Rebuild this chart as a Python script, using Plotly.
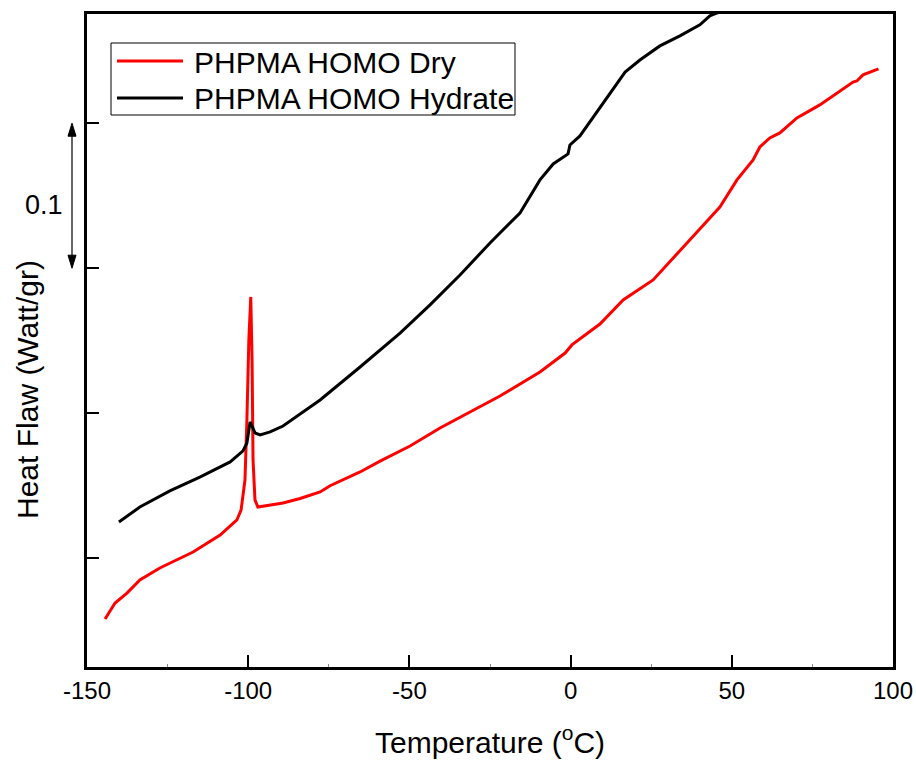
import plotly.graph_objects as go

# ---- data ----
dry_T = [-144.4, -141.3, -137.6, -133.6, -127.4, -117.1, -108.7, -103.5, -102.2, -101.0,
         -100.4, -99.8, -99.2, -98.8, -98.5, -97.9, -97.0, -94.8, -89.2, -83.9,
         -77.7, -74.6, -65.3, -59.1, -49.8, -40.5, -31.2, -21.9, -9.5, -1.7,
         0.4, 2.9, 9.1, 16.3, 25.6, 36.1, 46.3, 51.6, 56.6, 58.7, 61.8,
         64.9, 70.2, 77.3, 85.7, 87.6, 88.8, 90.7, 95.5]
dry_HF = [0.0331, 0.0441, 0.0510, 0.0600, 0.0683, 0.0793, 0.0910, 0.1014, 0.1083, 0.1290,
          0.1703, 0.2255, 0.2552, 0.2117, 0.1428, 0.1152, 0.1103, 0.1110, 0.1131, 0.1162,
          0.1207, 0.1250, 0.1345, 0.1420, 0.1524, 0.1648, 0.1759, 0.1869, 0.2034, 0.2165,
          0.2221, 0.2262, 0.2365, 0.2531, 0.2669, 0.2924, 0.3172, 0.3359, 0.3497, 0.3586, 0.3648,
          0.3683, 0.3786, 0.3876, 0.4000, 0.4034, 0.4041, 0.4083, 0.4124]

hyd_T = [-140.1, -133.6, -124.3, -115.0, -105.6, -101.6, -100.4, -99.4, -98.8, -97.9,
         -96.3, -93.2, -89.2, -83.9, -77.7, -65.3, -52.9, -43.6, -34.3, -25.0,
         -15.7, -9.5, -5.4, -0.8, -0.2, 2.9, 6.0, 11.0, 16.9, 21.5,
         27.7, 33.9, 40.1, 43.2, 45.4, 52.5]
hyd_HF = [0.1000, 0.1103, 0.1214, 0.1310, 0.1414, 0.1490, 0.1545, 0.1690, 0.1662, 0.1614,
          0.1600, 0.1621, 0.1662, 0.1745, 0.1841, 0.2069, 0.2303, 0.2497, 0.2703, 0.2924,
          0.3131, 0.3359, 0.3469, 0.3538, 0.3600, 0.3662, 0.3759, 0.3910, 0.4103, 0.4186,
          0.4283, 0.4352, 0.4428, 0.4490, 0.4510, 0.4566]

series_names = ["PHPMA HOMO Dry", "PHPMA HOMO Hydrate"]
series_colors = ["#ff0000", "#000000"]

x_ticks = [-150, -100, -50, 0, 50, 100]
x_tick_text = ["-150", "-100", "-50", "0", "50", "100"]
y_ticks = [0.075, 0.175, 0.275, 0.375]
scale_top, scale_bottom = 0.375, 0.275
scale_label = "0.1"

FONT = "Liberation Sans, Arial, sans-serif"
Y_RANGE = [0, 0.4503]
W, H = 916, 761
ML, MR, MT, MB = 87, 23, 14, 94
PLOT_W = W - ML - MR
PLOT_H = H - MT - MB


def px_x(p):  # pixel x -> paper x
    return (p - ML) / PLOT_W


def px_y(p):  # pixel y -> paper y
    return (H - MB - p) / PLOT_H


fig = go.Figure()
for xs, ys, nm, col in [(dry_T, dry_HF, series_names[0], series_colors[0]),
                        (hyd_T, hyd_HF, series_names[1], series_colors[1])]:
    fig.add_trace(go.Scatter(x=xs, y=ys, mode="lines", name=nm,
                             line=dict(color=col, width=3), showlegend=False))

fig.update_layout(
    width=W, height=H,
    margin=dict(l=ML, r=MR, t=MT, b=MB),
    paper_bgcolor="white", plot_bgcolor="white",
    font=dict(family=FONT, color="black", size=24),
    showlegend=False,
    xaxis=dict(range=[-150, 100], tickvals=x_ticks, ticktext=x_tick_text,
               ticks="inside", ticklen=12, automargin=False,
               tickwidth=2, tickcolor="black", showline=True, linewidth=2.5,
               linecolor="black", mirror=True, showgrid=False, zeroline=False,
               tickfont=dict(size=24),
               minor=dict(dtick=25, ticks="inside", ticklen=3, tickwidth=1,
                          tickcolor="#888888", showgrid=False),
               title=dict(text="Temperature (<sup>o</sup>C)", font=dict(size=30),
                          standoff=30)),
    yaxis=dict(range=Y_RANGE, tickvals=y_ticks, showticklabels=False,
               ticks="inside", ticklen=12, tickwidth=2, tickcolor="black",
               showline=True, linewidth=2.5, linecolor="black", mirror=True,
               showgrid=False, zeroline=False, automargin=False),
)

# y-axis title (offset below centre as in the reference)
fig.add_annotation(x=px_x(27), xref="paper", y=px_y(390), yref="paper",
                   text="Heat Flaw (Watt/gr)", textangle=-90, showarrow=False,
                   font=dict(size=30), xanchor="center", yanchor="middle")

# legend box drawn by hand
fig.add_shape(type="rect", xref="paper", yref="paper",
              x0=px_x(111), x1=px_x(515), y0=px_y(115), y1=px_y(43),
              line=dict(color="black", width=1), fillcolor="white", layer="above")
for nm, col, row_y in [(series_names[0], series_colors[0], 61),
                       (series_names[1], series_colors[1], 98)]:
    fig.add_shape(type="line", xref="paper", yref="paper",
                  x0=px_x(117), x1=px_x(183), y0=px_y(row_y), y1=px_y(row_y),
                  line=dict(color=col, width=3), layer="above")
    fig.add_annotation(x=px_x(192), xref="paper", y=px_y(row_y + 1), yref="paper",
                       text=nm, showarrow=False, font=dict(size=30),
                       xanchor="left", yanchor="middle")

# scale bar: double-headed arrow with "0.1"
bar_x = px_x(72)
hw = 4 / PLOT_W
hh = 13 * (Y_RANGE[1] - Y_RANGE[0]) / PLOT_H
fig.add_shape(type="line", xref="paper", yref="y", x0=bar_x, x1=bar_x,
              y0=scale_bottom + hh * 0.5, y1=scale_top - hh * 0.5,
              line=dict(color="black", width=1.2))
fig.add_shape(type="path", xref="paper", yref="y",
              path=f"M {bar_x},{scale_top} L {bar_x - hw},{scale_top - hh} "
                   f"L {bar_x + hw},{scale_top - hh} Z",
              fillcolor="black", line=dict(color="black", width=1))
fig.add_shape(type="path", xref="paper", yref="y",
              path=f"M {bar_x},{scale_bottom} L {bar_x - hw},{scale_bottom + hh} "
                   f"L {bar_x + hw},{scale_bottom + hh} Z",
              fillcolor="black", line=dict(color="black", width=1))
fig.add_annotation(x=px_x(43.5), xref="paper", y=px_y(205), yref="paper",
                   text=scale_label, showarrow=False, font=dict(size=27),
                   xanchor="center", yanchor="middle")

fig.write_html("out.html")
